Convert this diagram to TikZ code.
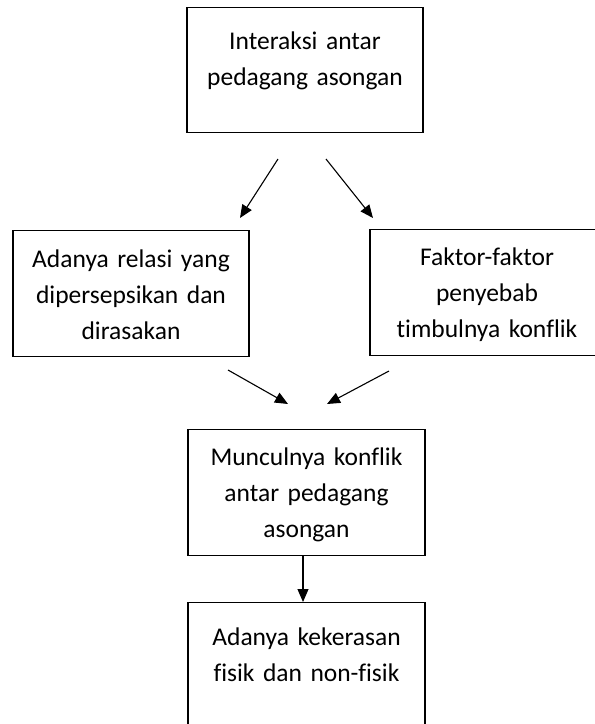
\documentclass[tikz,border=0pt]{standalone}
\usepackage{fontspec}
\setmainfont{Carlito}[Ligatures=NoCommon,WordSpace={0.8}]
\usetikzlibrary{arrows.meta,positioning}
\tikzset{
  kotak/.style={rectangle,draw=black,line width=1.2pt,text width=#1,align=center,
    anchor=north,inner xsep=0pt,inner ysep=0pt,font=\fontsize{25.5}{36}\selectfont,
    text height=37pt,text depth=89pt},
  kotak/.default={236pt},
  panah/.style={-{Triangle[length=13pt,width=11pt]},line width=1.1pt},
}
\begin{document}
\begin{tikzpicture}[x=1pt,y=-1pt]
  \useasboundingbox (0,0) rectangle (595,724);
  \clip (0,0) rectangle (595,724);
  \node[kotak,text height=42pt,text depth=83pt] (interaksi) at (305,7) {Interaksi antar\\pedagang asongan};
  \node[kotak] (relasi) at (131,230) {Adanya relasi yang\\dipersepsikan dan\\dirasakan};
  \node[kotak=234pt,text height=36pt,text depth=90pt] (faktor) at (487,229) {Faktor-faktor\\penyebab\\timbulnya konflik};
  \node[kotak=237pt,text height=36pt,text depth=90pt] (konflik) at (306.5,429) {Munculnya konflik\\antar pedagang\\asongan};
  \node[kotak=237pt,text height=43pt,text depth=110pt] (kekerasan) at (306.5,602) {Adanya kekerasan\\fisik dan non-fisik};
  % ujung panah yang tidak menempel pada kotak
  \coordinate (a1) at (278,159);
  \coordinate (b1) at (240,218);
  \coordinate (a2) at (326,159);
  \coordinate (b2) at (373,218);
  \coordinate (a3) at (228,370);
  \coordinate (b3) at (288,404);
  \coordinate (a4) at (389,371);
  \coordinate (b4) at (327,404);
  \draw[panah] (a1) -- (b1);
  \draw[panah] (a2) -- (b2);
  \draw[panah] (a3) -- (b3);
  \draw[panah] (a4) -- (b4);
  \draw[panah] ([xshift=-3.5pt]konflik.south) -- ([xshift=-3.5pt]kekerasan.north);
\end{tikzpicture}
\end{document}
